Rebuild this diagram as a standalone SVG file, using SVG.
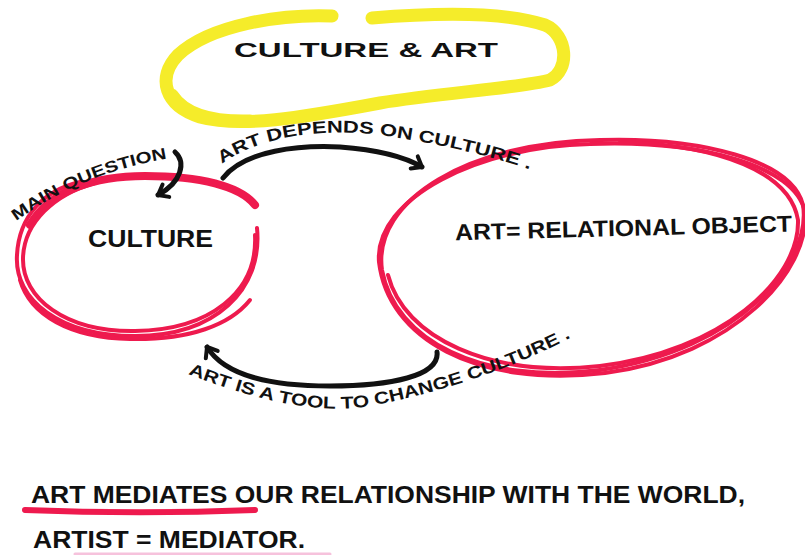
<svg xmlns="http://www.w3.org/2000/svg" width="805" height="555" viewBox="0 0 805 555">
  <style>
    .hand { font-family: "Liberation Sans", "DejaVu Sans", sans-serif; font-weight: bold; fill: #111; }
    .yellow { fill: none; stroke: #f5ec2a; stroke-width: 13; stroke-linecap: round; stroke-linejoin: round; }
    .red { fill: none; stroke: #ee1a4e; stroke-width: 4; stroke-linecap: round; }
    .redthick { fill: none; stroke: #ee1a4e; stroke-width: 8; stroke-linecap: round; }
    .conn { fill: none; stroke: #111; stroke-width: 5; stroke-linecap: round; }
  </style>
  <defs>
    <marker id="head" viewBox="-12 -10 16 20" refX="0" refY="0" markerWidth="16" markerHeight="20" markerUnits="userSpaceOnUse" orient="auto">
      <path d="M -9,-7 L 0,0 L -9,7" fill="none" stroke="#111" stroke-width="4" stroke-linecap="round" stroke-linejoin="round"/>
    </marker>
    <path id="p-depends" d="M 222,164 C 260,136 320,128 380,135 C 430,142 490,155 540,173"/>
    <path id="p-question" d="M 16,221 C 58,191 108,167 178,157"/>
    <path id="p-tool" d="M 188,374 C 250,398 320,418 380,404 C 440,392 510,370 578,334"/>
  </defs>
  <rect width="805" height="555" fill="#ffffff"/>

  <g id="title">
    <path class="yellow" d="M 332,16 C 280,14 210,25 178,55 C 156,78 165,106 200,117 C 240,128 300,118 380,103 C 440,93 520,88 550,80 C 570,70 568,35 545,25 C 500,10 420,14 372,18"/>
    <path class="yellow" stroke-width="8" d="M 172,95 C 185,115 215,122 250,121"/>
    <text class="hand" x="234" y="57" font-size="21" textLength="264" lengthAdjust="spacingAndGlyphs">CULTURE &amp; ART</text>
  </g>

  <g id="culture">
    <path class="redthick" d="M 30,225 C 50,190 95,176 145,176 C 200,176 240,186 255,205"/>
    <path class="red" d="M 257,228 C 263,290 215,336 135,336 C 60,336 14,300 17,255 C 19,215 45,190 80,182"/>
    <path class="red" d="M 255,235 C 258,292 210,330 135,331 C 65,332 22,298 23,258 C 24,222 55,194 95,183"/>
    <path class="red" d="M 250,300 C 230,325 190,340 130,339 C 70,338 30,315 20,280"/>
    <text class="hand" x="88" y="247" font-size="24" textLength="125" lengthAdjust="spacingAndGlyphs">CULTURE</text>
  </g>

  <g id="art">
    <path class="red" d="M 600,140 C 700,137 792,160 803,205 C 812,262 740,350 600,370 C 480,385 395,340 382,270 C 372,200 470,142 600,140 Z"/>
    <path class="red" d="M 590,144 C 700,140 795,165 805,212 C 810,270 735,356 605,373 C 475,388 388,338 379,262 C 374,198 480,146 590,144"/>
    <path class="red" d="M 620,142 C 720,145 790,172 798,220 C 800,280 720,352 600,366 C 490,378 404,338 388,275"/>
    <text class="hand" x="455" y="236" font-size="23" textLength="337" lengthAdjust="spacingAndGlyphs" transform="rotate(-1.5 620 228)">ART= RELATIONAL OBJECT</text>
  </g>

  <g id="connectors">
    <path class="conn" d="M 223,178 C 245,150 300,145 340,147 C 380,150 405,157 422,167" marker-end="url(#head)"/>
    <path class="conn" stroke-width="3.5" d="M 175,152 C 186,162 182,182 158,195" marker-end="url(#head)"/>
    <path class="conn" d="M 437,352 C 440,376 390,386 330,386 C 270,386 225,376 207,347" marker-end="url(#head)"/>
  </g>

  <g id="labels">
    <text class="hand" font-size="17"><textPath href="#p-depends" textLength="318" lengthAdjust="spacingAndGlyphs">ART DEPENDS ON CULTURE .</textPath></text>
    <text class="hand" font-size="16"><textPath href="#p-question" textLength="165" lengthAdjust="spacingAndGlyphs">MAIN QUESTION</textPath></text>
    <text class="hand" font-size="17"><textPath href="#p-tool" textLength="400" lengthAdjust="spacingAndGlyphs">ART IS A TOOL TO CHANGE CULTURE .</textPath></text>
  </g>

  <g id="statement">
    <path d="M 25,510 C 100,513 180,513 255,510" fill="none" stroke="#ee1a4e" stroke-width="6" stroke-linecap="round"/>
    <text class="hand" x="31" y="503" font-size="23" textLength="714" lengthAdjust="spacingAndGlyphs">ART MEDIATES OUR RELATIONSHIP WITH THE WORLD,</text>
    <text class="hand" x="33" y="548" font-size="24" textLength="272" lengthAdjust="spacingAndGlyphs">ARTIST = MEDIATOR.</text>
    <path d="M 75,554 L 330,554" fill="none" stroke="#f6c2dc" stroke-width="3" stroke-linecap="round"/>
  </g>
</svg>
